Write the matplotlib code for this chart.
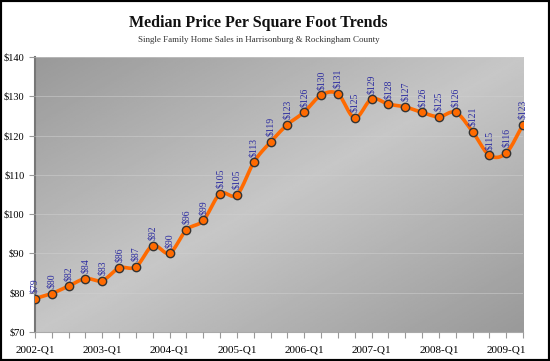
import numpy as np
import matplotlib.pyplot as plt

# quarterly median price per sq ft, 2002-Q1 .. 2009-Q2
quarters = [f"{y}-Q{q}" for y in range(2002, 2010) for q in range(1, 5)][:30]
prices = [78.5, 79.8, 81.7, 83.6, 83.1, 86.3, 86.6, 92.0, 90.1, 96.0,
          98.4, 105.2, 104.9, 113.2, 118.4, 122.8, 126.0, 130.3, 130.6, 124.5,
          129.3, 128.0, 127.3, 125.9, 124.8, 125.9, 121.0, 115.0, 115.6, 122.8]
labels = ["$79", "$80", "$82", "$84", "$83", "$86", "$87", "$92", "$90", "$96",
          "$99", "$105", "$105", "$113", "$119", "$123", "$126", "$130", "$131", "$125",
          "$129", "$128", "$127", "$126", "$125", "$126", "$121", "$115", "$116", "$123"]
yticks = [70, 80, 90, 100, 110, 120, 130, 140]

plt.rcParams['font.family'] = ['Liberation Serif', 'DejaVu Serif']


def smooth(x, y, n=12):
    # Catmull-Rom style curve through the points (like Excel's smoothed line)
    x = np.asarray(x, float)
    y = np.asarray(y, float)
    px = np.concatenate([[2 * x[0] - x[1]], x, [2 * x[-1] - x[-2]]])
    py = np.concatenate([[2 * y[0] - y[1]], y, [2 * y[-1] - y[-2]]])
    xs, ys = [], []
    t = np.linspace(0, 1, n, endpoint=False)
    for i in range(1, len(px) - 2):
        for p, out in ((px, xs), (py, ys)):
            p0, p1, p2, p3 = p[i - 1], p[i], p[i + 1], p[i + 2]
            out.extend(0.5 * ((2 * p1) + (-p0 + p2) * t
                              + (2 * p0 - 5 * p1 + 4 * p2 - p3) * t ** 2
                              + (-p0 + 3 * p1 - 3 * p2 + p3) * t ** 3))
    xs.append(x[-1])
    ys.append(y[-1])
    return np.array(xs), np.array(ys)


fig = plt.figure(figsize=(5.5, 3.61), dpi=100)
ax = fig.add_axes([0.0636, 0.0803, 0.8874, 0.7617])

# diagonal gradient background
gx, gy = np.meshgrid(np.linspace(0, 1, 200), np.linspace(0, 1, 200))
d = (gx + gy) / 2
shade = 0.60 + 0.18 * (1 - np.abs(d - 0.5) * 2)
ax.imshow(shade, cmap='gray', vmin=0, vmax=1, extent=[0, 1, 0, 1],
          transform=ax.transAxes, aspect='auto', zorder=0)

x = np.arange(len(prices))
sx, sy = smooth(x, prices)
ax.plot(sx, sy, color='#ff6a00', lw=2.6, zorder=3, solid_capstyle='round')
ax.plot(x, prices, 'o', ms=6, mfc='#ff6a00', mec='#333333', mew=1.0, zorder=4)

for xi, yi, lab in zip(x, prices, labels):
    ax.text(xi, yi + 1.4, lab, rotation=90, ha='center', va='bottom',
            fontsize=7, color='#2a2aa0', zorder=5)

ax.set_xlim(0, len(prices) - 1)
ax.set_ylim(70, 140)
ax.set_yticks(yticks)
ax.set_yticklabels([f"${v}" for v in yticks], fontsize=7.5)
ax.set_xticks(x)
ax.set_xticklabels([q if q.endswith("Q1") else "" for q in quarters], fontsize=8)
ax.tick_params(axis='x', length=4, color='#999999', pad=6)
ax.tick_params(axis='y', length=4, color='#999999', direction='out')
ax.grid(axis='y', color='#d0d0d0', lw=0.6, alpha=0.6)
ax.set_axisbelow(False)
for s in ['top', 'right']:
    ax.spines[s].set_visible(False)
ax.spines['left'].set_color('#777777')
ax.spines['left'].set_linewidth(1.5)
ax.spines['bottom'].set_color('#aaaaaa')

fig.text(0.47, 0.937, "Median Price Per Square Foot Trends", ha='center', va='center',
         fontsize=11.5, fontweight='bold', color='#111111')
fig.text(0.47, 0.889, "Single Family Home Sales in Harrisonburg & Rockingham County",
         ha='center', va='center', fontsize=6.5, color='#333333')

# black frame round the picture
fig.patches.append(plt.Rectangle((0, 0), 1, 1, transform=fig.transFigure,
                                 fill=False, ec='black', lw=3))

fig.savefig("out.png", dpi=100)
